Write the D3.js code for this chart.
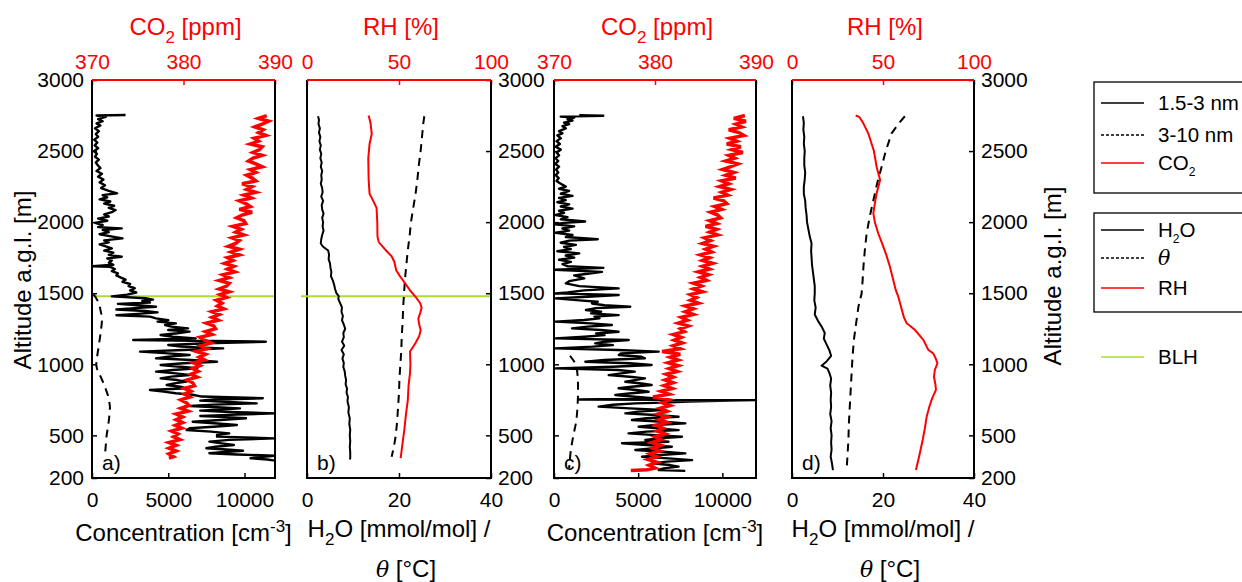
<!DOCTYPE html>
<html>
<head>
<meta charset="utf-8">
<script src="https://cdn.jsdelivr.net/npm/d3@7"></script>
<style>
body { margin: 0; background: #fff; }
svg { font-family: "Liberation Sans", Arial, sans-serif; }
</style>
</head>
<body>
<div id="chart"></div>
<script>
// ---- tick labels ----
const ALT_TICKS = [200, 500, 1000, 1500, 2000, 2500, 3000];
const CONC_TICKS = [0, 5000, 10000];
const CO2_TICKS = [370, 380, 390];
const MET_TICKS = [0, 20, 40];
const RH_TICKS = [0, 50, 100];
const BLH = 1478;

// ---- panel a : [altitude m, value] ----
const nucA = [[2754, 2200], [2750, 300], [2740, 900], [2725, 400], [2710, 700], [2695, 300], [2680, 550], [2660, 200], [2640, 450], [2620, 250], [2600, 400], [2580, 150], [2560, 350], [2540, 180], [2520, 400], [2500, 150], [2480, 320], [2460, 200], [2440, 450], [2420, 250], [2400, 380], [2380, 550], [2360, 300], [2340, 650], [2320, 400], [2300, 750], [2280, 500], [2260, 850], [2240, 600], [2220, 1100], [2203, 1650], [2190, 700], [2175, 1000], [2160, 500], [2145, 1200], [2130, 800], [2115, 1450], [2100, 1100], [2085, 1550], [2070, 1300], [2055, 800], [2040, 1100], [2025, 400], [2010, 1000], [1995, 200], [1980, 700], [1965, 400], [1956, 1950], [1945, 700], [1930, 1100], [1915, 500], [1900, 1250], [1886, 2000], [1872, 800], [1858, 1100], [1844, 500], [1830, 900], [1815, 1300], [1800, 800], [1785, 1400], [1770, 1100], [1757, 1950], [1745, 1000], [1730, 1300], [1715, 1100], [1700, 1400], [1690, 50], [1685, 1200], [1670, 1500], [1655, 1300], [1640, 1700], [1625, 1600], [1610, 1900], [1595, 2200], [1580, 2000], [1565, 2500], [1550, 2400], [1535, 2800], [1520, 2500], [1505, 2900], [1490, 2300], [1478, 1300], [1465, 3500], [1455, 4000], [1445, 3300], [1435, 3800], [1425, 1700], [1415, 3000], [1405, 4200], [1395, 2800], [1385, 1600], [1375, 3500], [1365, 4300], [1355, 3000], [1345, 1600], [1335, 3800], [1323, 4200], [1310, 5000], [1300, 4300], [1288, 5500], [1276, 4800], [1265, 5200], [1253, 6300], [1241, 5000], [1230, 6400], [1218, 5600], [1206, 4500], [1194, 5300], [1182, 6800], [1171, 2700], [1159, 11400], [1148, 7500], [1136, 5000], [1124, 5800], [1112, 8600], [1100, 6000], [1089, 3150], [1077, 5000], [1065, 6400], [1054, 5000], [1042, 4200], [1030, 6500], [1018, 8200], [1007, 6000], [995, 4500], [983, 5800], [972, 6900], [960, 5300], [948, 4200], [936, 5500], [925, 6400], [913, 5200], [901, 4500], [889, 5600], [878, 6200], [866, 5400], [854, 4900], [842, 5800], [831, 6200], [819, 3800], [808, 4700], [796, 5500], [786, 6600], [773, 7200], [761, 11200], [752, 8000], [744, 7100], [735, 9000], [725, 10800], [716, 8000], [707, 6400], [698, 8200], [690, 9700], [682, 8500], [674, 7100], [664, 9000], [655, 12000], [646, 9500], [636, 7100], [628, 8800], [620, 10100], [608, 8400], [596, 6600], [585, 8000], [573, 9500], [562, 8200], [550, 6400], [538, 6200], [526, 7800], [514, 9000], [503, 8200], [491, 8200], [479, 12000], [468, 9000], [456, 7700], [444, 8500], [432, 9300], [420, 8100], [409, 7500], [400, 8800], [392, 9900], [383, 8700], [374, 7700], [365, 9500], [357, 12000], [348, 11000], [339, 10400], [330, 11500], [322, 12000]];
const aitA = [[1492, 100], [1470, 250], [1440, 400], [1400, 520], [1350, 620], [1300, 650], [1250, 600], [1200, 540], [1150, 470], [1100, 400], [1050, 330], [1000, 280], [970, 320], [940, 450], [900, 620], [860, 780], [820, 920], [780, 1050], [740, 1130], [700, 1180], [650, 1150], [600, 1100], [550, 1030], [500, 960], [450, 920], [400, 880], [370, 850]];
const co2A = [[2750, 389.1], [2730, 388.2], [2710, 389.3], [2690, 388.6], [2670, 387.8], [2650, 388.7], [2630, 388.2], [2610, 389.0], [2590, 387.7], [2570, 388.2], [2550, 387.3], [2530, 388.6], [2510, 388.3], [2490, 387.6], [2470, 388.6], [2450, 387.6], [2430, 387.1], [2410, 387.9], [2390, 388.6], [2370, 387.3], [2350, 387.9], [2330, 386.9], [2310, 387.5], [2290, 387.9], [2270, 386.4], [2250, 387.5], [2230, 386.9], [2210, 387.9], [2190, 386.6], [2170, 387.4], [2150, 386.1], [2130, 386.8], [2110, 387.3], [2090, 386.1], [2070, 387.5], [2050, 386.4], [2030, 385.8], [2010, 386.6], [1990, 386.8], [1970, 385.4], [1950, 386.3], [1930, 385.7], [1910, 386.6], [1890, 385.3], [1870, 386.1], [1850, 385.7], [1830, 384.9], [1810, 386.1], [1790, 385.2], [1770, 386.1], [1750, 384.8], [1730, 385.4], [1710, 384.5], [1690, 385.5], [1670, 384.8], [1650, 385.6], [1630, 384.3], [1610, 385.0], [1590, 383.9], [1570, 385.0], [1550, 384.7], [1530, 383.9], [1510, 385.0], [1490, 384.0], [1470, 384.7], [1450, 383.6], [1430, 384.2], [1410, 383.7], [1390, 384.4], [1370, 383.1], [1350, 383.9], [1330, 383.1], [1310, 383.8], [1290, 382.5], [1270, 383.3], [1250, 383.5], [1230, 382.4], [1210, 383.1], [1190, 381.8], [1170, 382.3], [1150, 383.0], [1130, 381.9], [1110, 382.6], [1090, 381.4], [1070, 382.4], [1050, 381.7], [1030, 382.3], [1010, 381.1], [990, 381.8], [970, 381.0], [950, 381.6], [930, 380.8], [910, 381.5], [890, 380.4], [870, 381.0], [850, 381.2], [830, 380.1], [810, 380.8], [790, 380.1], [770, 380.7], [750, 379.7], [730, 380.3], [710, 380.6], [690, 379.7], [670, 380.5], [650, 379.2], [630, 379.9], [610, 379.2], [590, 379.9], [570, 379.1], [550, 379.8], [530, 378.7], [510, 379.4], [490, 378.9], [470, 379.6], [450, 378.4], [430, 379.2], [410, 378.4], [390, 379.2], [370, 378.4], [350, 378.9], [340, 378.4]];

// ---- panel b ----
const h2oB = [[2745, 2.4], [2720, 2.6], [2690, 2.5], [2660, 2.8], [2630, 2.6], [2600, 2.9], [2570, 2.7], [2540, 3.0], [2510, 2.8], [2480, 3.1], [2450, 2.9], [2420, 3.2], [2390, 3.0], [2360, 3.3], [2330, 3.1], [2300, 3.2], [2270, 3.0], [2240, 3.3], [2210, 3.4], [2180, 3.1], [2150, 3.5], [2120, 3.2], [2090, 3.3], [2060, 3.6], [2030, 3.3], [2000, 3.5], [1970, 3.4], [1940, 3.6], [1910, 3.3], [1880, 3.1], [1850, 3.0], [1830, 3.4], [1815, 4.0], [1800, 4.6], [1770, 4.8], [1740, 4.7], [1710, 5.0], [1680, 5.1], [1650, 5.3], [1620, 5.2], [1590, 5.6], [1560, 5.9], [1530, 6.1], [1500, 6.4], [1480, 6.9], [1460, 6.8], [1430, 7.2], [1400, 7.6], [1370, 7.5], [1340, 7.8], [1310, 7.6], [1280, 8.0], [1250, 8.3], [1220, 7.9], [1190, 8.0], [1160, 7.6], [1130, 8.1], [1100, 7.5], [1070, 8.0], [1040, 7.7], [1010, 8.0], [980, 7.9], [950, 8.2], [920, 8.3], [890, 8.5], [860, 8.4], [830, 8.7], [800, 8.6], [770, 8.9], [740, 8.8], [700, 9.1], [660, 9.0], [620, 9.3], [580, 9.2], [540, 9.4], [500, 9.3], [460, 9.4], [420, 9.3], [380, 9.4], [340, 9.4], [330, 9.3]];
const thetaB = [[2745, 25.5], [2700, 25.3], [2600, 25.0], [2500, 24.7], [2400, 24.3], [2300, 24.0], [2200, 23.6], [2100, 23.1], [2000, 22.6], [1900, 22.3], [1800, 21.9], [1700, 21.6], [1600, 21.3], [1500, 21.1], [1400, 20.9], [1300, 20.8], [1200, 20.6], [1100, 20.5], [1000, 20.3], [900, 20.1], [800, 20.0], [700, 19.8], [600, 19.6], [500, 19.3], [420, 18.9], [350, 18.4]];
const rhB = [[2750, 33.5], [2700, 34.5], [2620, 35.2], [2550, 34.0], [2450, 33.3], [2300, 33.5], [2200, 34.0], [2150, 36.0], [2100, 37.8], [2000, 38.2], [1900, 38.3], [1860, 39.0], [1800, 43.0], [1760, 46.0], [1720, 47.5], [1660, 48.5], [1620, 50.5], [1570, 53.3], [1520, 56.0], [1475, 59.0], [1430, 61.5], [1400, 62.3], [1360, 61.5], [1320, 60.5], [1280, 61.0], [1240, 61.8], [1200, 61.0], [1150, 59.0], [1120, 57.5], [1090, 56.0], [1000, 56.2], [940, 56.0], [850, 55.2], [750, 54.8], [650, 53.8], [540, 52.9], [450, 52.0], [340, 50.9]];

// ---- panel c ----
const nucC = [[2752, 1500], [2748, 2930], [2742, 400], [2735, 1200], [2725, 800], [2715, 1100], [2700, 600], [2690, 900], [2675, 500], [2660, 700], [2640, 300], [2625, 500], [2610, 200], [2590, 400], [2570, 150], [2550, 350], [2530, 100], [2510, 400], [2490, 150], [2470, 300], [2450, 100], [2430, 250], [2410, 80], [2390, 300], [2370, 120], [2350, 250], [2330, 100], [2310, 280], [2290, 150], [2270, 400], [2250, 700], [2235, 300], [2220, 900], [2200, 400], [2185, 1100], [2170, 300], [2155, 700], [2140, 200], [2125, 900], [2110, 400], [2095, 1100], [2080, 300], [2065, 600], [2050, 100], [2035, 800], [2020, 400], [2005, 1850], [1995, 600], [1985, 50], [1970, 1200], [1955, 500], [1940, 900], [1925, 100], [1910, 1100], [1895, 700], [1880, 2600], [1870, 900], [1855, 400], [1840, 1300], [1825, 600], [1810, 1000], [1795, 200], [1780, 1500], [1765, 700], [1750, 1200], [1735, 300], [1720, 1000], [1705, 500], [1690, 800], [1678, 2930], [1665, 50], [1650, 2850], [1640, 2200], [1625, 1200], [1604, 1800], [1585, 900], [1569, 700], [1550, 1500], [1534, 3840], [1520, 1800], [1505, 800], [1499, 80], [1487, 3840], [1475, 2000], [1464, 80], [1450, 1500], [1440, 2600], [1428, 2260], [1415, 3000], [1405, 4530], [1395, 2500], [1382, 1900], [1370, 2800], [1358, 2200], [1346, 3840], [1335, 2400], [1323, 2700], [1312, 1800], [1300, 80], [1288, 2200], [1276, 3440], [1265, 2000], [1253, 1070], [1241, 2800], [1229, 3840], [1217, 2500], [1205, 3000], [1194, 1800], [1182, 80], [1171, 4440], [1159, 3000], [1147, 2450], [1135, 3500], [1124, 2300], [1112, 80], [1100, 3800], [1089, 6220], [1077, 4000], [1065, 3850], [1053, 5200], [1042, 5400], [1030, 3000], [1018, 1860], [1007, 4500], [995, 5800], [983, 3500], [971, 80], [960, 3800], [948, 4800], [936, 4000], [924, 3250], [912, 4500], [901, 5400], [889, 4800], [877, 4240], [865, 5200], [854, 5800], [842, 4600], [831, 3840], [819, 4900], [807, 5620], [796, 4600], [784, 3640], [772, 4800], [760, 6020], [752, 1500], [748, 12000], [744, 10500], [737, 8000], [730, 6500], [725, 4830], [715, 3500], [702, 2650], [690, 4500], [678, 6400], [667, 5000], [655, 4240], [643, 6000], [631, 7400], [620, 5500], [608, 4630], [596, 6500], [584, 7800], [573, 6000], [561, 5030], [549, 6200], [537, 7400], [526, 5500], [514, 4430], [502, 6000], [490, 7600], [479, 6200], [467, 5430], [455, 6800], [444, 4040], [432, 5500], [420, 7000], [409, 6000], [397, 4830], [385, 6500], [373, 7800], [362, 6300], [350, 5230], [338, 6800], [326, 8200], [315, 6700], [303, 5820], [291, 6900], [280, 7400], [268, 6500], [256, 6220], [250, 7800]];
const aitC = [[1060, 950], [1020, 1200], [980, 1350], [900, 1420], [800, 1430], [700, 1400], [600, 1330], [500, 1150], [400, 1000], [300, 920], [270, 900]];
const co2C = [[2750, 388.9], [2730, 387.8], [2710, 389.0], [2690, 388.0], [2670, 388.6], [2650, 387.3], [2630, 388.3], [2610, 388.8], [2590, 387.4], [2570, 388.1], [2550, 387.1], [2530, 388.5], [2510, 387.6], [2490, 388.7], [2470, 387.3], [2450, 387.9], [2430, 387.0], [2410, 388.2], [2390, 387.5], [2370, 386.7], [2350, 387.8], [2330, 387.0], [2310, 388.0], [2290, 386.6], [2270, 387.3], [2250, 386.4], [2230, 387.5], [2210, 386.6], [2190, 387.2], [2170, 385.8], [2150, 386.8], [2130, 387.1], [2110, 385.9], [2090, 386.6], [2070, 385.5], [2050, 386.2], [2030, 386.5], [2010, 385.4], [1990, 386.1], [1970, 385.0], [1950, 386.1], [1930, 385.4], [1910, 386.2], [1890, 384.9], [1870, 385.5], [1850, 384.7], [1830, 385.8], [1810, 385.0], [1790, 385.6], [1770, 384.5], [1750, 385.4], [1730, 384.7], [1710, 385.7], [1690, 384.7], [1670, 385.4], [1650, 384.3], [1630, 385.3], [1610, 384.5], [1590, 385.1], [1570, 383.8], [1550, 384.6], [1530, 383.8], [1510, 384.7], [1490, 383.5], [1470, 384.1], [1450, 383.5], [1430, 384.3], [1410, 383.0], [1390, 383.8], [1370, 383.0], [1350, 383.8], [1330, 382.6], [1310, 383.2], [1290, 382.3], [1270, 383.3], [1250, 382.5], [1230, 382.9], [1210, 381.8], [1190, 382.6], [1170, 381.9], [1150, 382.7], [1130, 381.8], [1110, 382.5], [1090, 380.7], [1070, 382.5], [1050, 381.5], [1030, 382.3], [1010, 381.3], [990, 382.3], [970, 381.4], [950, 382.2], [930, 381.1], [910, 381.8], [890, 381.0], [870, 381.8], [850, 380.9], [830, 381.7], [810, 380.6], [790, 381.4], [770, 379.8], [750, 381.4], [730, 380.7], [710, 381.5], [690, 380.5], [670, 381.2], [650, 380.3], [630, 381.2], [610, 380.4], [590, 381.2], [570, 380.1], [550, 380.8], [530, 380.2], [510, 381.0], [490, 380.0], [470, 380.6], [450, 379.7], [430, 380.6], [410, 379.8], [390, 380.5], [370, 379.5], [350, 380.2], [330, 379.3], [310, 380.2], [290, 379.4], [270, 380.0], [258, 379.2], [252, 377.6]];

// ---- panel d ----
const h2oD = [[2745, 2.4], [2700, 2.6], [2650, 2.5], [2600, 2.7], [2550, 2.6], [2500, 2.8], [2450, 2.7], [2400, 2.7], [2350, 2.9], [2300, 2.8], [2250, 2.6], [2200, 2.6], [2150, 2.9], [2100, 3.0], [2050, 3.2], [2000, 3.3], [1950, 3.6], [1900, 3.9], [1850, 4.3], [1800, 4.2], [1750, 4.3], [1700, 4.4], [1650, 4.6], [1600, 4.8], [1550, 5.0], [1500, 5.0], [1450, 4.9], [1400, 5.2], [1350, 5.0], [1300, 5.8], [1260, 6.6], [1220, 7.2], [1180, 7.0], [1140, 7.6], [1100, 8.2], [1060, 8.6], [1020, 7.6], [990, 6.5], [970, 7.8], [940, 8.2], [900, 8.6], [850, 8.4], [800, 8.6], [750, 8.5], [700, 8.6], [650, 8.4], [600, 8.7], [550, 8.5], [500, 8.7], [450, 8.6], [400, 8.7], [350, 8.5], [300, 8.8], [256, 9.0]];
const thetaD = [[2745, 24.8], [2700, 23.6], [2625, 21.9], [2500, 20.6], [2390, 19.7], [2270, 18.7], [2156, 17.9], [2040, 17.1], [1920, 16.4], [1800, 16.0], [1686, 15.7], [1580, 15.5], [1498, 15.3], [1405, 14.6], [1290, 14.1], [1171, 13.6], [1050, 13.3], [937, 13.1], [820, 12.9], [703, 12.7], [585, 12.5], [467, 12.4], [360, 12.2], [256, 12.0]];
const rhD = [[2750, 35.0], [2740, 37.0], [2700, 39.0], [2625, 41.9], [2500, 45.0], [2390, 46.5], [2297, 48.4], [2250, 47.5], [2203, 46.5], [2130, 45.5], [2062, 44.7], [2000, 45.5], [1920, 47.4], [1850, 49.5], [1770, 51.8], [1686, 53.8], [1600, 55.5], [1523, 57.0], [1475, 58.4], [1400, 60.0], [1330, 61.5], [1289, 63.0], [1241, 67.6], [1171, 72.2], [1101, 74.9], [1077, 77.6], [1040, 79.0], [1007, 79.9], [960, 78.5], [913, 78.0], [860, 78.8], [820, 79.1], [760, 77.0], [703, 75.5], [632, 74.0], [550, 73.0], [467, 71.8], [360, 70.0], [256, 68.1]];

const WIDTH = 1242;
const HEIGHT = 582;
const TOP = 80;
const BOTTOM = 478;
const RED = '#ff0000';
const GREEN = '#aedc2c';

const svg = d3.select('#chart')
              .append('svg')
              .attr('width', WIDTH)
              .attr('height', HEIGHT);

const Y_SCALE = d3.scaleLinear()
                  .domain([200, 3000])
                  .range([BOTTOM, TOP]);

const PANELS = [
    {tag: 'a)', left: 92, right: 275, bottomDomain: [0, 12000], bottomTicks: CONC_TICKS,
     topDomain: [370, 390], topTicks: CO2_TICKS, kind: 'conc', yLabels: 'left',
     solid: nucA, dashed: aitA, red: co2A, redWidth: 3.5, blh: true},
    {tag: 'b)', left: 307, right: 491, bottomDomain: [0, 40], bottomTicks: MET_TICKS,
     topDomain: [0, 100], topTicks: RH_TICKS, kind: 'met', yLabels: 'right',
     solid: h2oB, dashed: thetaB, red: rhB, redWidth: 2, blh: true},
    {tag: 'c)', left: 554, right: 756, bottomDomain: [0, 12000], bottomTicks: CONC_TICKS,
     topDomain: [370, 390], topTicks: CO2_TICKS, kind: 'conc', yLabels: 'none',
     solid: nucC, dashed: aitC, red: co2C, redWidth: 3.5, blh: false},
    {tag: 'd)', left: 792, right: 974, bottomDomain: [0, 40], bottomTicks: MET_TICKS,
     topDomain: [0, 100], topTicks: RH_TICKS, kind: 'met', yLabels: 'right',
     solid: h2oD, dashed: thetaD, red: rhD, redWidth: 2, blh: false}
];

function drawPanel(p) {
    const g = svg.append('g');
    const X_BOTTOM = d3.scaleLinear().domain(p.bottomDomain).range([p.left, p.right]);
    const X_TOP = d3.scaleLinear().domain(p.topDomain).range([p.left, p.right]);

    // bottom axis
    g.append('g')
     .attr('class', 'axis')
     .attr('transform', 'translate(0,' + BOTTOM + ')')
     .call(d3.axisBottom(X_BOTTOM).tickValues(p.bottomTicks).tickSizeInner(-5).tickSizeOuter(0).tickPadding(14).tickFormat(d3.format('d')));

    // top axis (red)
    g.append('g')
     .attr('class', 'axis top')
     .attr('transform', 'translate(0,' + TOP + ')')
     .call(d3.axisTop(X_TOP).tickValues(p.topTicks).tickSizeInner(-5).tickSizeOuter(0).tickPadding(11).tickFormat(d3.format('d')));

    // y ticks / labels
    const yAxis = p.yLabels === 'right' ? d3.axisRight(Y_SCALE) : d3.axisLeft(Y_SCALE);
    yAxis.tickValues(ALT_TICKS).tickSizeInner(-5).tickSizeOuter(0)
         .tickPadding(p.yLabels === 'right' ? 7 : 8)
         .tickFormat(p.yLabels === 'none' ? '' : d3.format('d'));
    g.append('g')
     .attr('class', 'axis')
     .attr('transform', 'translate(' + (p.yLabels === 'right' ? p.right : p.left) + ',0)')
     .call(yAxis);

    g.selectAll('.axis text').attr('font-size', '21px').attr('fill', '#000');
    g.selectAll('.axis line').attr('stroke', '#000').attr('stroke-width', 1.5);
    g.selectAll('.axis.top text').attr('fill', RED);
    g.selectAll('.axis.top line').attr('stroke', RED);
    g.selectAll('.axis path').remove();

    // frame
    g.append('path')
     .attr('d', `M${p.left},${TOP}V${BOTTOM}H${p.right}V${TOP}`)
     .attr('fill', 'none').attr('stroke', '#000').attr('stroke-width', 2);
    g.append('line')
     .attr('x1', p.left).attr('x2', p.right).attr('y1', TOP).attr('y2', TOP)
     .attr('stroke', RED).attr('stroke-width', 2.2);

    if (p.blh) {
        g.append('line')
         .attr('x1', p.left + (p.kind === 'met' ? -6 : 1)).attr('x2', p.right - 1)
         .attr('y1', Y_SCALE(BLH)).attr('y2', Y_SCALE(BLH))
         .attr('stroke', GREEN).attr('stroke-width', 2);
    }

    const lineBottom = d3.line().x(d => X_BOTTOM(d[1])).y(d => Y_SCALE(d[0]));
    const lineTop = d3.line().x(d => X_TOP(d[1])).y(d => Y_SCALE(d[0]));

    g.append('path').datum(p.dashed)
     .attr('d', lineBottom)
     .attr('fill', 'none').attr('stroke', '#000').attr('stroke-width', 2)
     .attr('stroke-dasharray', '8,6');
    g.append('path').datum(p.solid)
     .attr('d', lineBottom)
     .attr('fill', 'none').attr('stroke', '#000').attr('stroke-width', p.kind === 'conc' ? 2.4 : 2)
     .attr('stroke-linejoin', 'round');
    g.append('path').datum(p.red)
     .attr('d', lineTop)
     .attr('fill', 'none').attr('stroke', RED).attr('stroke-width', p.redWidth)
     .attr('stroke-linejoin', 'miter');

    g.append('text')
     .attr('x', p.left + 10)
     .attr('y', 470)
     .attr('font-size', '21px')
     .text(p.tag);

    const mid = (p.left + p.right) / 2;
    // top title
    const title = g.append('text')
                   .attr('x', mid + 2)
                   .attr('y', 35)
                   .attr('font-size', '24px')
                   .attr('fill', RED)
                   .attr('text-anchor', 'middle');
    if (p.kind === 'conc') {
        title.append('tspan').text('CO');
        title.append('tspan').attr('font-size', '17px').attr('dy', 8).text('2');
        title.append('tspan').attr('dy', -8).text(' [ppm]');
    } else {
        title.text('RH [%]');
    }

    // bottom label
    if (p.kind === 'conc') {
        const lab = g.append('text')
                     .attr('x', mid)
                     .attr('y', 541)
                     .attr('font-size', '24px')
                     .attr('text-anchor', 'middle');
        lab.append('tspan').text('Concentration [cm');
        lab.append('tspan').attr('font-size', '17px').attr('dy', -9).text('-3');
        lab.append('tspan').attr('dy', 9).text(']');
    } else {
        const lab = g.append('text')
                     .attr('x', mid)
                     .attr('y', 537)
                     .attr('font-size', '24px')
                     .attr('text-anchor', 'middle');
        lab.append('tspan').text('H');
        lab.append('tspan').attr('font-size', '17px').attr('dy', 8).text('2');
        lab.append('tspan').attr('dy', -8).text('O [mmol/mol] /');
        const lab2 = g.append('text')
                      .attr('x', mid + 7)
                      .attr('y', 577)
                      .attr('font-size', '24px')
                      .attr('text-anchor', 'middle');
        lab2.append('tspan').attr('font-style', 'italic').attr('font-family', 'DejaVu Serif, serif').attr('font-size', '22px').text('θ');
        lab2.append('tspan').text(' [°C]');
    }
}

PANELS.forEach(drawPanel);

// y axis titles
[[31, 280], [1061, 276]].forEach(pos => {
    svg.append('text')
       .attr('transform', `translate(${pos[0]},${pos[1]}) rotate(-90)`)
       .attr('font-size', '24px')
       .attr('text-anchor', 'middle')
       .text('Altitude a.g.l. [m]');
});

// legend
const LEGEND_BOXES = [
    {y0: 82, y1: 193, items: [
        {label: '1.5-3 nm', color: '#000', dash: null, y: 103},
        {label: '3-10 nm', color: '#000', dash: '3,2', y: 135},
        {label: 'CO2', color: RED, dash: null, y: 163}]},
    {y0: 213, y1: 312, items: [
        {label: 'H2O', color: '#000', dash: null, y: 230},
        {label: 'θ', color: '#000', dash: '3,2', y: 258},
        {label: 'RH', color: RED, dash: null, y: 288}]}
];

LEGEND_BOXES.forEach(box => {
    svg.append('rect')
       .attr('x', 1094).attr('y', box.y0)
       .attr('width', 200).attr('height', box.y1 - box.y0)
       .attr('fill', 'none').attr('stroke', '#000').attr('stroke-width', 1.3);
    box.items.forEach(it => {
        svg.append('line')
           .attr('x1', 1101).attr('x2', 1144)
           .attr('y1', it.y).attr('y2', it.y)
           .attr('stroke', it.color).attr('stroke-width', 1.3)
           .attr('stroke-dasharray', it.dash);
        const t = svg.append('text')
                     .attr('x', 1158).attr('y', it.y + 7)
                     .attr('font-size', '20.5px');
        if (it.label === 'CO2') {
            t.append('tspan').text('CO');
            t.append('tspan').attr('font-size', '12px').attr('dy', 6).text('2');
        } else if (it.label === 'H2O') {
            t.append('tspan').text('H');
            t.append('tspan').attr('font-size', '12px').attr('dy', 6).text('2');
            t.append('tspan').attr('dy', -6).text('O');
        } else if (it.label === 'θ') {
            t.attr('font-style', 'italic').attr('font-family', 'DejaVu Serif, serif').text('θ');
        } else {
            t.text(it.label);
        }
    });
});

svg.append('line')
   .attr('x1', 1101).attr('x2', 1144)
   .attr('y1', 357).attr('y2', 357)
   .attr('stroke', GREEN).attr('stroke-width', 1.5);
svg.append('text')
   .attr('x', 1158).attr('y', 364)
   .attr('font-size', '20.5px')
   .text('BLH');
</script>
</body>
</html>
